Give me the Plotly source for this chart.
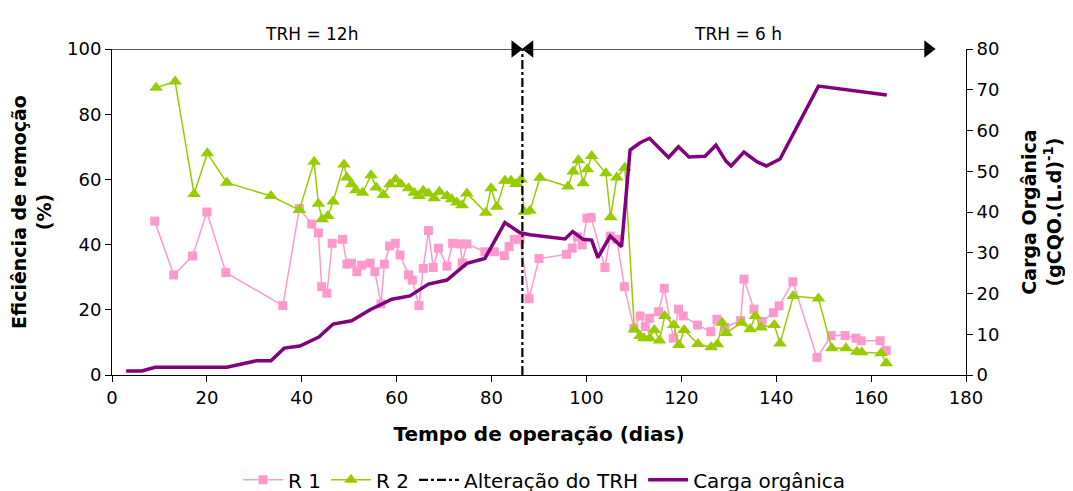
import plotly.graph_objects as go

r1_days = [9, 13, 17, 20, 24, 36, 39.5, 42.1, 43.5, 44.2, 45.3, 46.4, 48.6, 49.5, 50.5, 51.6, 52.6, 54.4, 55.4, 56.7,
           57.4, 58.5, 59.7, 60.7, 62.5, 63.3, 64.7, 65.6, 66.7, 67.7, 68.8, 70.6, 71.8, 73.4, 73.8, 74.8, 78.6, 80.6,
           82.7, 83.7, 84.8, 86.0, 87.9, 90.0, 95.8, 97.0, 98.1, 99.1, 100.1, 101.0, 103.9, 105.0, 106.4, 108.0, 110.0,
           111.3, 112.4, 113.3, 115.2, 116.4, 118.3, 119.4, 120.4, 123.4, 126.2, 127.5, 129.2, 132.5, 133.2, 135.3,
           137.0, 139.4, 140.6, 143.5, 148.6, 151.6, 154.5, 156.8, 157.9, 161.9, 163.2]
r1_vals = [47.2, 30.7, 36.5, 50.0, 31.4, 21.3, 51.1, 46.3, 43.6, 27.1, 25.1, 40.4, 41.6, 34.0, 34.3, 31.7, 33.7, 34.3,
           31.7, 21.8, 34.0, 39.6, 40.4, 36.8, 30.7, 29.1, 21.3, 32.7, 44.3, 33.0, 38.9, 33.4, 40.4, 40.2, 34.4, 40.2,
           37.8, 37.8, 36.6, 39.4, 41.6, 41.6, 23.4, 35.7, 37.0, 38.9, 42.4, 39.9, 48.1, 48.3, 33.0, 42.6, 41.6, 27.1,
           14.3, 18.1, 14.8, 17.4, 19.4, 26.6, 11.3, 20.2, 18.1, 15.3, 13.3, 17.1, 14.6, 16.7, 29.4, 20.2, 16.4, 19.1,
           21.2, 28.6, 5.4, 12.1, 12.1, 11.3, 10.5, 10.5, 7.5]

r2_days = [9.3, 13.3, 17.3, 20.1, 24.2, 33.5, 39.5, 42.6, 43.5, 44.3, 45.5, 46.6, 48.9, 49.5, 50.5, 51.4, 52.8, 54.6,
           55.7, 57.2, 58.6, 59.8, 60.9, 62.5, 63.7, 64.7, 65.6, 66.7, 67.9, 69.0, 70.6, 71.6, 72.7, 73.8, 74.8, 78.8,
           79.9, 81.1, 82.8, 84.1, 85.1, 86.2, 86.9, 88.1, 90.2, 96.1, 97.2, 98.3, 99.3, 100.2, 101.1, 104.1, 105.1,
           106.4, 108.1, 110.1, 111.3, 112.1, 113.3, 114.3, 115.4, 116.5, 118.4, 119.5, 120.6, 123.5, 126.3, 127.6,
           128.6, 129.4, 132.7, 134.5, 135.6, 136.8, 139.6, 140.8, 143.6, 148.9, 151.7, 154.7, 157.0, 158.0, 162.1, 163.2]
r2_vals = [88.1, 90.0, 55.5, 68.0, 59.0, 54.9, 50.6, 65.4, 52.5, 47.8, 48.8, 53.2, 64.6, 60.6, 58.5, 56.7, 55.9, 61.3,
           57.5, 55.2, 58.5, 60.0, 58.5, 57.3, 55.9, 54.9, 56.5, 55.7, 54.2, 56.2, 54.9, 53.9, 52.9, 52.1, 55.7, 49.8,
           57.3, 51.6, 59.6, 59.6, 58.6, 60.0, 50.1, 50.4, 60.5, 57.8, 62.4, 65.9, 58.8, 63.1, 67.2, 61.9, 48.4, 60.6,
           63.6, 14.0, 12.0, 11.3, 11.3, 13.8, 10.6, 18.1, 15.3, 9.2, 13.8, 9.5, 8.5, 9.4, 16.0, 12.9, 16.0, 14.0,
           18.1, 14.6, 15.3, 9.7, 24.2, 23.5, 8.2, 8.2, 7.1, 7.0, 6.7, 3.6]

carga_days = [3.0, 6.3, 9.1, 24.2, 30.5, 33.5, 36.3, 39.6, 43.6, 46.6, 50.5, 54.4, 59.0, 62.8, 66.7, 70.6, 74.8, 78.6,
              82.8, 86.0, 88.1, 95.5, 97.1, 99.3, 101.1, 102.4, 105.0, 107.4, 109.2, 111.3, 113.3, 117.3, 119.4, 121.6,
              125.0, 127.3, 129.4, 130.5, 133.2, 136.0, 137.9, 140.8, 148.9, 163.3]
carga_vals = [1.0, 1.0, 1.9, 1.9, 3.5, 3.5, 6.6, 7.1, 9.3, 12.5, 13.3, 16.0, 18.6, 19.4, 22.3, 23.3, 27.4, 28.6, 37.4,
              34.9, 34.4, 33.4, 35.2, 33.3, 33.1, 28.8, 34.1, 31.5, 55.2, 57.0, 58.1, 53.4, 56.0, 53.5, 53.7, 56.4,
              52.5, 51.3, 54.7, 52.3, 51.3, 53.0, 70.9, 68.7]

trh_change_day = 86.5
trh_x = [trh_change_day, trh_change_day]
trh_y = [0, 100]

# TRH period spans (days) for the double arrows above the plot
period_starts = [-3, trh_change_day]
period_ends = [trh_change_day, 173.5]
period_labels = ["TRH = 12h", "TRH = 6 h"]
period_label_x = [42, 132]

x_ticks = [0, 20, 40, 60, 80, 100, 120, 140, 160, 180]
y_ticks = [0, 20, 40, 60, 80, 100]
y2_ticks = [0, 10, 20, 30, 40, 50, 60, 70, 80]

FONT = "DejaVu Sans"

fig = go.Figure()
fig.add_trace(go.Scatter(x=r1_days, y=r1_vals, name="R 1", mode="lines+markers",
                         line=dict(color="#FF99CC", width=1.5),
                         marker=dict(symbol="square", size=9, color="#FF99CC")))
fig.add_trace(go.Scatter(x=r2_days, y=r2_vals, name="R 2", mode="lines+markers",
                         line=dict(color="#99CC00", width=1.5),
                         marker=dict(symbol="triangle-up", size=12, color="#99CC00")))
fig.add_trace(go.Scatter(x=trh_x, y=trh_y, name="Alteração do TRH", mode="lines",
                         line=dict(color="black", width=2.2, dash="dashdot")))
fig.add_trace(go.Scatter(x=carga_days, y=carga_vals, name="Carga orgânica", mode="lines",
                         line=dict(color="#800080", width=3.5), yaxis="y2"))

# Arrow lines and heads
for s, e in zip(period_starts, period_ends):
    fig.add_shape(type="line", x0=s, x1=e, y0=100, y1=100, xref="x", yref="y",
                  line=dict(color="#222222", width=1.5))
    fig.add_trace(go.Scatter(x=[s + 1.5, e - 1.5], y=[100, 100], mode="markers", showlegend=False,
                             hoverinfo="skip", cliponaxis=False,
                             marker=dict(symbol=["triangle-left", "triangle-right"], size=15, color="black")))

axis_common = dict(showline=True, linecolor="black", linewidth=1, ticks="outside", ticklen=6,
                   tickcolor="black", showgrid=False, zeroline=False, automargin=False,
                   tickfont=dict(family=FONT, size=18, color="black"))

# The page body adds an 8 px offset, so margins are shifted to place the plot area as in the reference.
fig.update_layout(
    width=1073, height=491,
    margin=dict(l=104, r=115, t=41, b=124, autoexpand=False),
    paper_bgcolor="white", plot_bgcolor="white",
    font=dict(family=FONT, color="black"),
    xaxis=dict(range=[0, 180], tickvals=x_ticks, **axis_common,
               title=dict(text="<b>Tempo de operação (dias)</b>", font=dict(family=FONT, size=20), standoff=20)),
    yaxis=dict(range=[0, 100], tickvals=y_ticks, **axis_common,
               title=dict(text="<b>Eficiência de remoção<br>(%)</b>", font=dict(family=FONT, size=19), standoff=10)),
    yaxis2=dict(range=[0, 80], tickvals=y2_ticks, overlaying="y", side="right", **axis_common,
                title=dict(text="<b>Carga Orgânica<br>(gCQO.(L.d)<sup>-1</sup>)</b>", font=dict(family=FONT, size=19),
                           standoff=24)),
    legend=dict(orientation="h", x=0.5, xanchor="center", xref="container",
                y=0.039, yanchor="middle", yref="container",
                font=dict(family=FONT, size=20), itemwidth=40, tracegroupgap=0),
    showlegend=True,
)

for lx, lt in zip(period_label_x, period_labels):
    fig.add_annotation(x=lx, y=1.083, xref="x", yref="paper", text=lt, showarrow=False,
                       font=dict(family=FONT, size=17, color="black"))

fig.write_html("out.html")
